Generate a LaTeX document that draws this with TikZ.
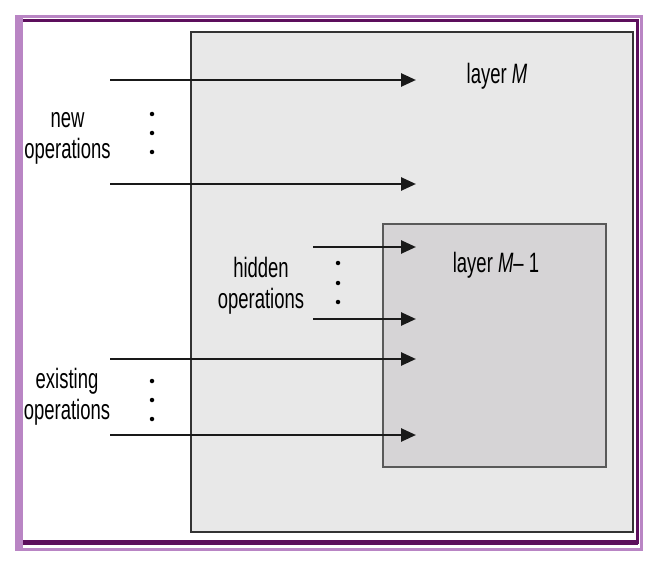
\documentclass[tikz,border=0pt]{standalone}
\usepackage{fontspec}
\setmainfont{Liberation Sans}[FakeStretch=0.66]
\usetikzlibrary{arrows.meta}
\definecolor{lightpurple}{HTML}{B985C4}
\definecolor{darkpurple}{HTML}{5C0E5C}
\definecolor{outerfill}{HTML}{E8E8E8}
\definecolor{innerfill}{HTML}{D6D4D6}
\tikzset{
  op/.style={line width=2.6pt, draw=black!90, -{Triangle[length=15pt,width=13pt]}},
  lbl/.style={font=\fontsize{28}{31}\selectfont, align=center, anchor=base, inner sep=0pt},
  dotmark/.style={circle, fill=black, inner sep=0pt, minimum size=4.5pt},
}
\begin{document}
\begin{tikzpicture}[x=1pt,y=-1pt]
\useasboundingbox (0,0) rectangle (664,567);
\fill[white] (0,0) rectangle (664,567);
% purple frame
\draw[lightpurple, line width=3pt] (16.5,16.5) rectangle (641,549);
\fill[lightpurple] (15,15) rectangle (23,550);
\draw[darkpurple, line width=2.5pt] (23,20.5) -- (637.5,20.5) -- (637.5,542.5) -- (23,542.5);
\fill[darkpurple] (23,540) rectangle (638,545);
% boxes
\node[draw=black!80, line width=1.8pt, fill=outerfill, anchor=north west, minimum width=442pt, minimum height=500pt, inner sep=0pt] (layerM) at (190,31) {};
\node[draw=black!65, line width=1.5pt, fill=innerfill, anchor=north west, minimum width=223pt, minimum height=243pt, inner sep=0pt] (layerM1) at (382,223) {};
% labels (base = baseline of the last line)
\node[lbl] (tM) at (497,84) {layer \textit{M}};
\node[lbl] (tM1) at (496,272) {layer \textit{M}– 1};
\node[lbl] (tnew) at (67.5,158) {new\\operations};
\node[lbl] (thid) at (261,308) {hidden\\operations};
\node[lbl] (texi) at (67,419) {existing\\operations};
% arrow endpoints
\coordinate (a1s) at (110,80);  \coordinate (a1e) at (416,80);
\coordinate (a2s) at (110,184); \coordinate (a2e) at (416,184);
\coordinate (h1s) at (313,247); \coordinate (h1e) at (416,247);
\coordinate (h2s) at (313,319); \coordinate (h2e) at (416,319);
\coordinate (e1s) at (110,359); \coordinate (e1e) at (416,359);
\coordinate (e2s) at (110,435); \coordinate (e2e) at (416,435);
\draw[op] (a1s) -- (a1e);
\draw[op] (a2s) -- (a2e);
\draw[op] (h1s) -- (h1e);
\draw[op] (h2s) -- (h2e);
\draw[op] (e1s) -- (e1e);
\draw[op] (e2s) -- (e2e);
% dots
\foreach \y [count=\i] in {114,133,152} \node[dotmark] (nd\i) at (152,\y) {};
\foreach \y [count=\i] in {263,283,302} \node[dotmark] (hd\i) at (338,\y) {};
\foreach \y [count=\i] in {381,400,419} \node[dotmark] (ed\i) at (152,\y) {};
\end{tikzpicture}
\end{document}
